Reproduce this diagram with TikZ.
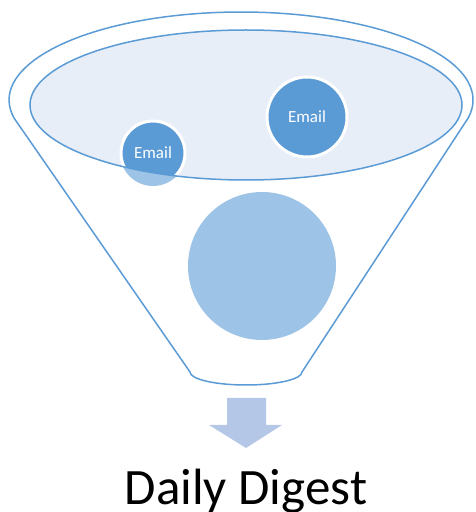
\documentclass[tikz,border=0pt]{standalone}
\usepackage{fontspec}
\setmainfont{Carlito}
\usepackage{tikz}
\definecolor{funnelblue}{HTML}{5B9BD5}
\definecolor{lightblue}{HTML}{9DC3E6}
\definecolor{paleblue}{HTML}{E7EEF8}
\definecolor{arrowblue}{HTML}{B4C7E7}
\begin{document}
\begin{tikzpicture}[x=1pt,y=1pt]
      \tikzstyle rim=[color=funnelblue, line width=1.5pt]
      \tikzstyle mail=[circle, fill=funnelblue, draw=white, line width=3pt,
      text=white, font=\fontsize{17}{17}\selectfont, inner sep=0pt]
      \useasboundingbox (0,0) rectangle (475,512);
      % funnel body
      \draw [rim] (14,394) arc[start angle=191.8, end angle=-11.8, x radius=232, y radius=88]
        -- (302,140) arc[start angle=0, end angle=-180, x radius=56, y radius=13] -- cycle;
      \fill [paleblue] (246,407) ellipse [x radius=216, y radius=75];
      % emails
      \fill [lightblue] (153,359) circle (33);
      \begin{scope}
        \clip (246,407) ellipse [x radius=216, y radius=75];
        \draw [fill=funnelblue, draw=white, line width=3pt] (153,359) circle (32);
      \end{scope}
      \node [text=white, font=\fontsize{17}{17}\selectfont] (mailA) at (153,359) {Email};
      \node [mail, minimum size=80pt] (mailB) at (307,395) {Email};
      \draw [rim] (246,407) ellipse [x radius=216, y radius=75];
      \fill [lightblue] (262,246) circle (74);
      % output
      \fill [arrowblue] (227,114) -- (266,114) -- (266,87) -- (282,87) -- (246,64)
        -- (209,87) -- (227,87) -- cycle;
      \node [anchor=base, font=\fontsize{51}{51}\selectfont] (digest) at (246,7) {Daily Digest};
\end{tikzpicture}
\end{document}
